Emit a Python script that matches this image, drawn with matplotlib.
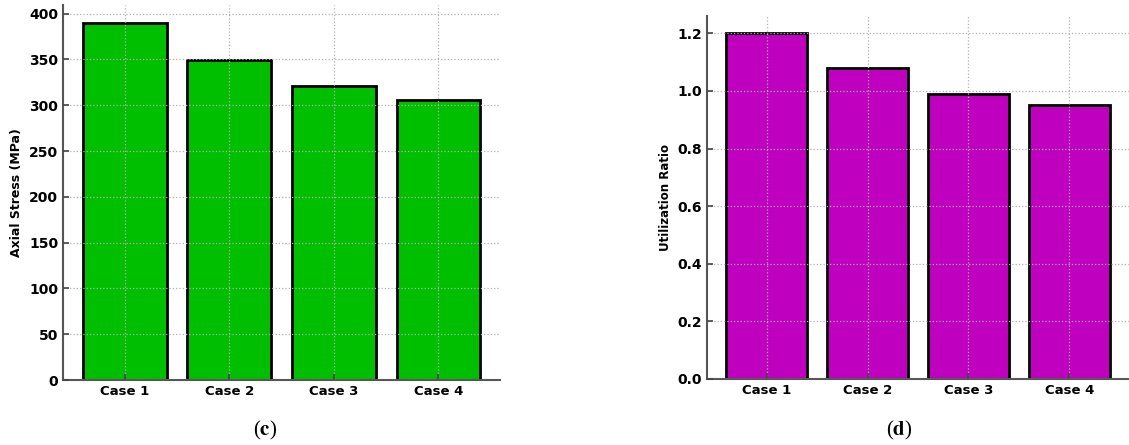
import matplotlib.pyplot as plt
import numpy as np

cases = ["Case 1", "Case 2", "Case 3", "Case 4"]
axial_stress = [390, 349, 321, 306]
utilization_ratio = [1.20, 1.08, 0.99, 0.95]

plt.rcParams["mathtext.fontset"] = "stix"


def style_axes(ax):
    ax.spines["top"].set_visible(False)
    ax.spines["right"].set_visible(False)
    ax.spines["left"].set_color("#555555")
    ax.spines["bottom"].set_color("#555555")
    ax.spines["left"].set_linewidth(1.5)
    ax.spines["bottom"].set_linewidth(1.5)
    ax.grid(True, linestyle=":", color="#b0b0b0", linewidth=0.9)
    ax.set_axisbelow(False)
    ax.tick_params(direction="in", length=4, width=1.2, color="#444444")
    ax.tick_params(axis="y", labelsize=10)
    ax.tick_params(axis="x", labelsize=9.5)
    for label in ax.get_xticklabels() + ax.get_yticklabels():
        label.set_fontweight("bold")


fig = plt.figure(figsize=(11.29, 4.45), dpi=100)
x = np.arange(len(cases))

ax_c = fig.add_axes([63 / 1129, 65 / 445, 437 / 1129, 375 / 445])
ax_c.bar(x, axial_stress, width=0.8, color="#00bf00", edgecolor="black",
         linewidth=2.0, zorder=1)
ax_c.set_xticks(x, cases)
ax_c.set_ylabel("Axial Stress (MPa)", fontsize=9, fontweight="bold")
style_axes(ax_c)

ax_d = fig.add_axes([707 / 1129, 66 / 445, 422 / 1129, 363 / 445])
ax_d.bar(x, utilization_ratio, width=0.8, color="#bf00bf", edgecolor="black",
         linewidth=2.0, zorder=1)
ax_d.set_xticks(x, cases)
ax_d.set_ylabel("Utilization Ratio", fontsize=8.5, fontweight="bold")
style_axes(ax_d)

fig.text(265 / 1129, 1 - 430 / 445, r"($\mathbf{c}$)",
         family="Liberation Serif", fontsize=15, ha="center", va="center")
fig.text(899 / 1129, 1 - 430 / 445, r"($\mathbf{d}$)",
         family="Liberation Serif", fontsize=15, ha="center", va="center")

fig.savefig("out.png", dpi=100)
